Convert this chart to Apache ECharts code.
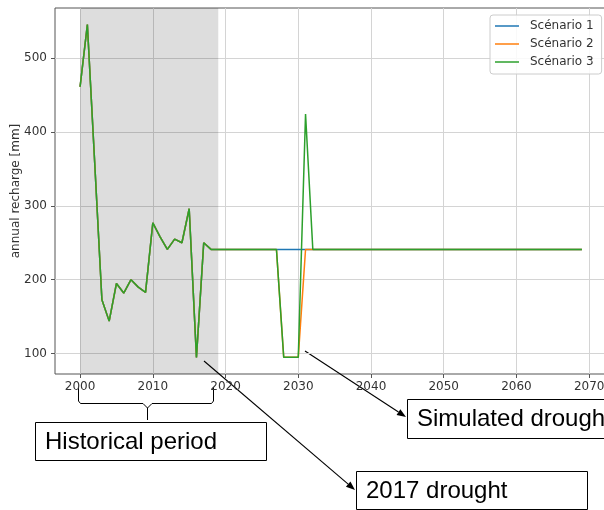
<!DOCTYPE html>
<html>
<head>
<meta charset="utf-8">
<script src="https://cdn.jsdelivr.net/npm/echarts@6/dist/echarts.min.js"></script>
<style>
html,body{margin:0;padding:0;background:#fff;}
#chart{width:604px;height:510px;}
</style>
</head>
<body>
<div id="chart"></div>
<script>
// ---- data ----
const years = [
  2000,2001,2002,2003,2004,2005,2006,2007,2008,2009,
  2010,2011,2012,2013,2014,2015,2016,2017,2018,2019,
  2020,2021,2022,2023,2024,2025,2026,2027,2028,2029,
  2030,2031,2032,2033,2034,2035,2036,2037,2038,2039,
  2040,2041,2042,2043,2044,2045,2046,2047,2048,2049,
  2050,2051,2052,2053,2054,2055,2056,2057,2058,2059,
  2060,2061,2062,2063,2064,2065,2066,2067,2068,2069
];
const scenario1 = [
  461,545,360,173,144,195,182,200,190,183,
  277,258,241,255,250,296,95,250,241,241,
  241,241,241,241,241,241,241,241,241,241,
  241,241,241,241,241,241,241,241,241,241,
  241,241,241,241,241,241,241,241,241,241,
  241,241,241,241,241,241,241,241,241,241,
  241,241,241,241,241,241,241,241,241,241
];
const scenario2 = [
  461,545,360,173,144,195,182,200,190,183,
  277,258,241,255,250,296,95,250,241,241,
  241,241,241,241,241,241,241,241,95,95,
  95,241,241,241,241,241,241,241,241,241,
  241,241,241,241,241,241,241,241,241,241,
  241,241,241,241,241,241,241,241,241,241,
  241,241,241,241,241,241,241,241,241,241
];
const scenario3 = [
  461,545,360,173,144,195,182,200,190,183,
  277,258,241,255,250,296,95,250,241,241,
  241,241,241,241,241,241,241,241,95,95,
  95,424,241,241,241,241,241,241,241,241,
  241,241,241,241,241,241,241,241,241,241,
  241,241,241,241,241,241,241,241,241,241,
  241,241,241,241,241,241,241,241,241,241
];
const seriesNames = ['Scénario 1','Scénario 2','Scénario 3'];
const historicalPeriod = [2000, 2019];
const xTicks = [2000,2010,2020,2030,2040,2050,2060,2070];
const yTicks = [100,200,300,400,500];
const yAxisTitle = 'annual recharge [mm]';
const annotationTexts = ['Historical period','Simulated drought','2017 drought'];

// ---- chart ----
const colors = ['#1f77b4','#ff7f0e','#2ca02c'];
const pairs = arr => years.map((y,i)=>[y, arr[i]]);
const font = 'DejaVu Sans';
const chart = echarts.init(document.getElementById('chart'), null, {renderer:'canvas'});

function arrow(x1,y1,x2,y2){
  const dx=x2-x1, dy=y2-y1, L=Math.hypot(dx,dy), ux=dx/L, uy=dy/L;
  const hl=9, hw=3.5;
  const bx=x2-ux*hl, by=y2-uy*hl;
  return [
    {type:'line', shape:{x1:x1,y1:y1,x2:bx,y2:by}, style:{stroke:'#000', lineWidth:1.1}},
    {type:'polygon', shape:{points:[[x2,y2],[bx-uy*hw,by+ux*hw],[bx+uy*hw,by-ux*hw]]}, style:{fill:'#000'}}
  ];
}
const annFont = '24px "Liberation Sans", Arial, sans-serif';
const braceStyle = {stroke:'#000', fill:null, lineWidth:1};
const graphics = [
  {type:'polyline', shape:{points:[[78.5,387],[78.5,401],[80.5,403.5],[143,403.5],[147.5,408],[147.5,420]]}, style:braceStyle},
  {type:'polyline', shape:{points:[[147.5,408],[152,403.5],[211.5,403.5],[213.5,401],[213.5,387]]}, style:braceStyle},
  {type:'rect', shape:{x:35.5,y:422.5,width:231,height:38}, style:{fill:'#fff', stroke:'#000', lineWidth:1}},
  {type:'text', x:45, y:442, style:{text:annotationTexts[0], font:annFont, fill:'#000', verticalAlign:'middle'}},
  {type:'rect', shape:{x:407.5,y:399.5,width:220,height:39}, style:{fill:'#fff', stroke:'#000', lineWidth:1}},
  {type:'text', x:417, y:419, style:{text:annotationTexts[1], font:annFont, fill:'#000', verticalAlign:'middle'}},
  {type:'rect', shape:{x:356.5,y:471.5,width:231,height:38}, style:{fill:'#fff', stroke:'#000', lineWidth:1}},
  {type:'text', x:366, y:491, style:{text:annotationTexts[2], font:annFont, fill:'#000', verticalAlign:'middle'}}
].concat(arrow(204,361,355,490), arrow(305,351,406,417));

const lineSeries = [scenario1, scenario2, scenario3].map((arr,i)=>({
  name: seriesNames[i],
  type: 'line',
  data: pairs(arr),
  showSymbol: false,
  symbol: 'none',
  color: colors[i],
  lineStyle: {width: 1.5, color: colors[i]},
  z: 3 + i,
  animation: false
}));
const shadeSeries = {
  name: 'shade',
  type: 'line',
  data: [],
  z: 1,
  silent: true,
  markArea: {
    silent: true,
    itemStyle: {color: 'rgba(0,0,0,0.135)'},
    data: [[{xAxis: historicalPeriod[0]}, {xAxis: historicalPeriod[1]}]]
  }
};

chart.setOption({
  animation: false,
  backgroundColor: '#fff',
  textStyle: {fontFamily: font},
  grid: {left: 55, top: 8, width: 552, height: 366, containLabel: false, outerBoundsMode: 'none',
         show: true, borderColor: '#555', borderWidth: 1, backgroundColor: 'transparent'},
  legend: {
    data: seriesNames,
    orient: 'vertical',
    left: 490, top: 15,
    icon: 'rect',
    itemWidth: 24, itemHeight: 1.5,
    itemGap: 6,
    padding: [5, 8, 6, 5],
    backgroundColor: 'rgba(255,255,255,0.85)',
    borderColor: '#cccccc', borderWidth: 1, borderRadius: 3,
    textStyle: {fontFamily: font, fontSize: 12, color: '#333', padding: [0,0,0,6]}
  },
  xAxis: {
    type: 'value',
    min: 1996.55, max: 2072.45, interval: 10,
    axisLine: {show: false},
    axisTick: {show: true, length: 4, lineStyle: {color: '#555'}, customValues: xTicks},
    axisLabel: {fontFamily: font, fontSize: 12, color: '#333', margin: 7, customValues: xTicks, formatter: v => String(Math.round(v))},
    splitLine: {show: true, lineStyle: {color: '#d4d4d4', width: 1}}
  },
  yAxis: {
    type: 'value',
    min: 72.5, max: 567.5, interval: 100,
    name: yAxisTitle, nameLocation: 'middle', nameGap: 33, nameRotate: 90, nameMoveOverlap: false,
    nameTextStyle: {fontFamily: font, fontSize: 12, color: '#333'},
    axisLine: {show: false},
    axisTick: {show: true, length: 4, lineStyle: {color: '#555'}, customValues: yTicks},
    axisLabel: {fontFamily: font, fontSize: 12, color: '#333', margin: 8, customValues: yTicks, formatter: v => String(Math.round(v))},
    splitLine: {show: true, lineStyle: {color: '#d4d4d4', width: 1}}
  },
  series: [shadeSeries].concat(lineSeries),
  graphic: graphics
});
</script>
</body>
</html>
